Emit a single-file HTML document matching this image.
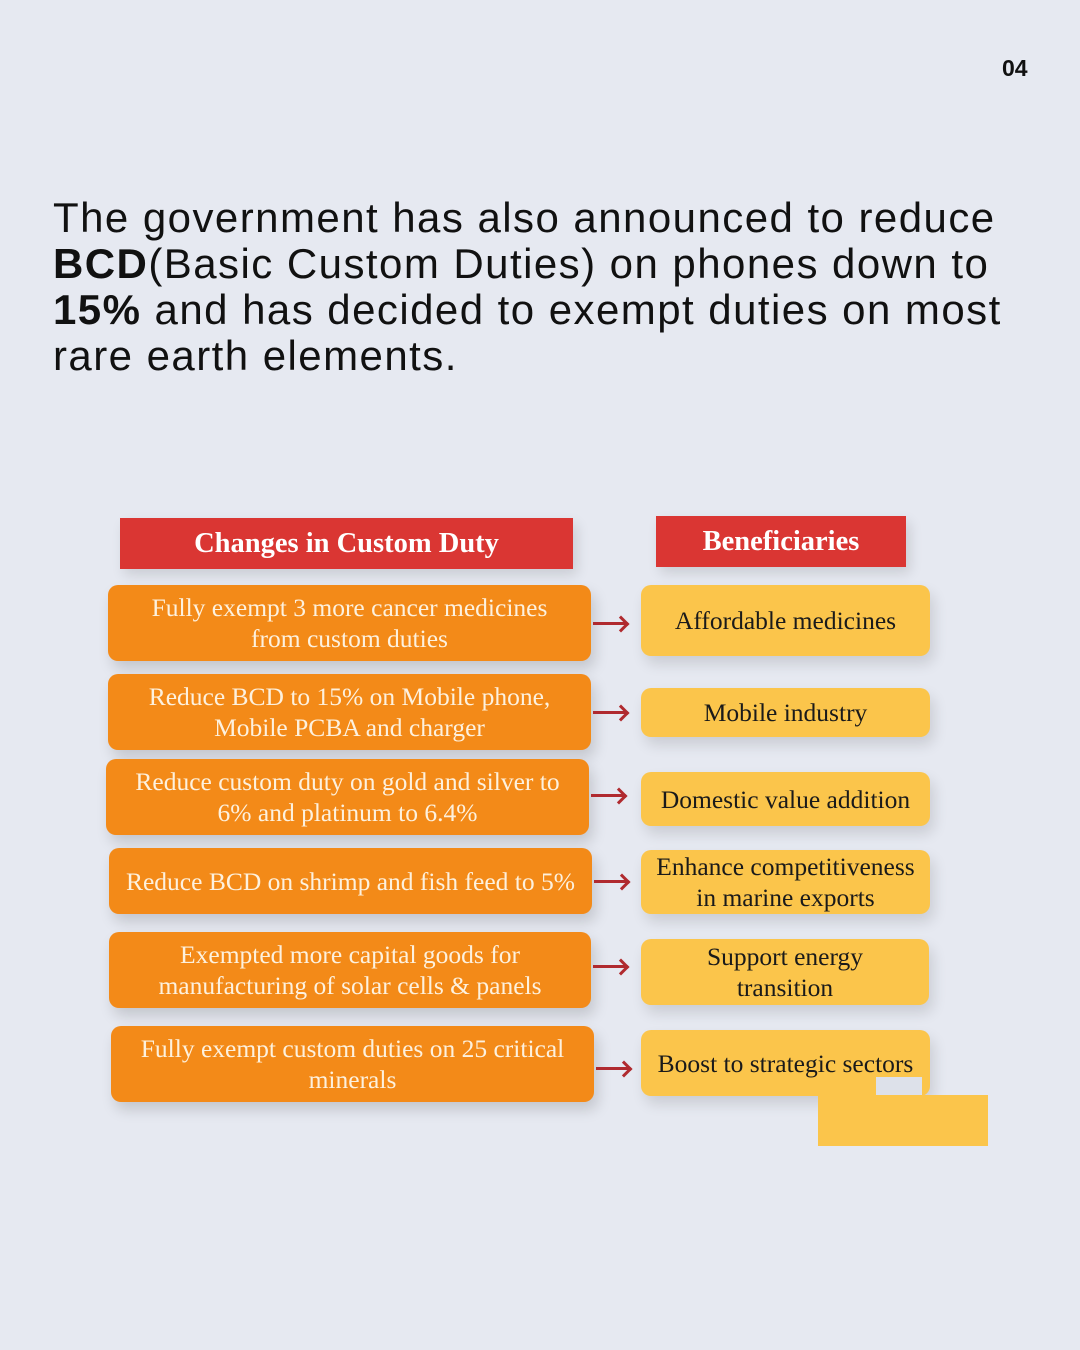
<!DOCTYPE html>
<html><head><meta charset="utf-8">
<style>
*{margin:0;padding:0;box-sizing:border-box}
body{width:1080px;height:1350px;background:#e6e9f1;position:relative;overflow:hidden;font-family:"Liberation Sans",sans-serif}
.pg{position:absolute;left:1002px;top:55px;font-size:23px;font-weight:bold;color:#111}
.hd{position:absolute;left:53px;top:195px;font-size:42px;line-height:46px;letter-spacing:1.45px;color:#111;white-space:nowrap}
.b{position:absolute;display:flex;align-items:center;justify-content:center;text-align:center;font-family:"Liberation Serif",serif;font-size:25.5px;line-height:31px;white-space:nowrap}
.red{background:#da3633;color:#fff;font-weight:bold;font-size:28.5px;box-shadow:4px 6px 12px rgba(0,0,0,.12)}
.or{background:#f38a18;color:#fdf1de;border-radius:10px;box-shadow:4px 8px 14px rgba(0,0,0,.15)}
.ye{background:#fbc54b;color:#1a1a1a;border-radius:10px;box-shadow:4px 8px 14px rgba(0,0,0,.12)}
.ar{position:absolute;height:3px;background:#b02a2f;width:34px}
.ar:after{content:"";position:absolute;right:0;top:-4px;width:9px;height:9px;border-top:3px solid #b02a2f;border-right:3px solid #b02a2f;transform:rotate(45deg)}
</style></head><body>
<div class="pg">04</div>
<div class="hd">The government has also announced to reduce<br><b>BCD</b>(Basic Custom Duties) on phones down to<br><b>15%</b> and has decided to exempt duties on most<br>rare earth elements.</div>

<div class="b red" style="left:120px;top:518px;width:453px;height:51px">Changes in Custom Duty</div>
<div class="b red" style="left:656px;top:516px;width:250px;height:51px">Beneficiaries</div>

<div class="b or" style="left:108px;top:585px;width:483px;height:76px">Fully exempt 3 more cancer medicines<br>from custom duties</div>
<div class="b or" style="left:108px;top:674px;width:483px;height:76px">Reduce BCD to 15% on Mobile phone,<br>Mobile PCBA and charger</div>
<div class="b or" style="left:106px;top:759px;width:483px;height:76px">Reduce custom duty on gold and silver to<br>6% and platinum to 6.4%</div>
<div class="b or" style="left:109px;top:848px;width:483px;height:66px">Reduce BCD on shrimp and fish feed to 5%</div>
<div class="b or" style="left:109px;top:932px;width:482px;height:76px">Exempted more capital goods for<br>manufacturing of solar cells &amp; panels</div>
<div class="b or" style="left:111px;top:1026px;width:483px;height:76px">Fully exempt custom duties on 25 critical<br>minerals</div>

<div class="ar" style="left:593px;top:622px"></div>
<div class="ar" style="left:593px;top:711px"></div>
<div class="ar" style="left:591px;top:794px"></div>
<div class="ar" style="left:594px;top:880px"></div>
<div class="ar" style="left:593px;top:965px"></div>
<div class="ar" style="left:596px;top:1067px"></div>

<div class="b ye" style="left:641px;top:585px;width:289px;height:71px">Affordable medicines</div>
<div class="b ye" style="left:641px;top:688px;width:289px;height:49px">Mobile industry</div>
<div class="b ye" style="left:641px;top:772px;width:289px;height:54px">Domestic value addition</div>
<div class="b ye" style="left:641px;top:850px;width:289px;height:64px">Enhance competitiveness<br>in marine exports</div>
<div class="b ye" style="left:641px;top:939px;width:288px;height:66px">Support energy<br>transition</div>
<div class="b ye" style="left:641px;top:1030px;width:289px;height:66px">Boost to strategic sectors</div>
<div style="position:absolute;left:876px;top:1077px;width:46px;height:19px;background:#dde1ea"></div>
<div style="position:absolute;left:818px;top:1095px;width:170px;height:51px;background:#fbc54b"></div>
</body></html>
